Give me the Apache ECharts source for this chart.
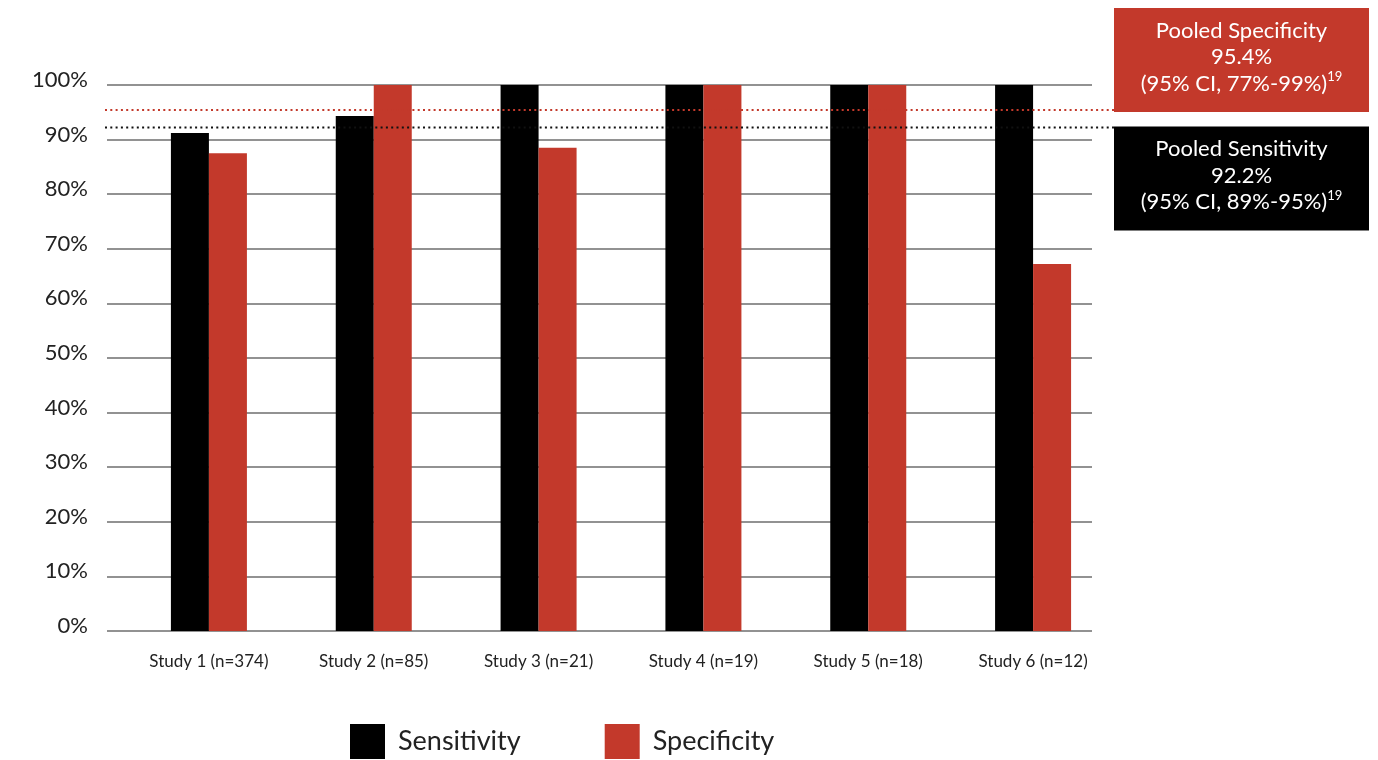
<!DOCTYPE html>
<html>
<head>
<meta charset="utf-8">
<script src="https://cdn.jsdelivr.net/npm/echarts@6/dist/echarts.min.js"></script>
<style>
  html, body { margin: 0; padding: 0; background: #fff; }
  #chart { width: 1378px; height: 760px; }
</style>
</head>
<body>
<div id="chart"></div>
<script>
// Study categories and per-study results (%)
const studies = ['Study 1 (n=374)', 'Study 2 (n=85)', 'Study 3 (n=21)', 'Study 4 (n=19)', 'Study 5 (n=18)', 'Study 6 (n=12)'];
const sensitivity = [91.2, 94.3, 100, 100, 100, 100];
const specificity = [87.5, 100, 88.5, 100, 100, 67.2];

// Pooled estimates shown as reference lines with callout boxes
const pooledSpecificity = 95.4;
const pooledSensitivity = 92.2;
const pooledSpecText = ['Pooled Specificity', '95.4%', '(95% CI, 77%-99%)'];
const pooledSensText = ['Pooled Sensitivity', '92.2%', '(95% CI, 89%-95%)'];
const refMark = '19';

const RED = '#C3392B';
const BLACK = '#000000';
const FONT = 'Lato, "Noto Sans", sans-serif';

const chart = echarts.init(document.getElementById('chart'), null, { renderer: 'canvas' });

chart.setOption({
  animation: false,
  backgroundColor: '#ffffff',
  textStyle: { fontFamily: FONT },
  grid: [
    { left: 107, right: 286, top: 85, bottom: 129 },
    { left: 126.5, right: 262.5, top: 85, bottom: 129 }
  ],
  xAxis: [
    { type: 'value', gridIndex: 0, show: false, min: 0, max: 1 },
    {
      type: 'category', gridIndex: 1, data: studies,
      axisLine: { show: false }, axisTick: { show: false },
      axisLabel: { fontSize: 17, color: '#222', fontFamily: FONT, margin: 22 }
    }
  ],
  yAxis: [
    {
      type: 'value', gridIndex: 0, min: 0, max: 100, interval: 10,
      axisLine: { show: false }, axisTick: { show: false },
      axisLabel: {
        formatter: '{value}%', fontSize: 22, color: '#222', fontFamily: FONT,
        margin: 19, verticalAlign: 'bottom', lineHeight: 10
      },
      splitLine: { lineStyle: { color: '#6e6e6e', width: 1.6 } }
    },
    { type: 'value', gridIndex: 1, min: 0, max: 100, show: false, splitLine: { show: false } }
  ],
  legend: {
    left: 345, top: 719,
    itemWidth: 35, itemHeight: 35, itemGap: 84,
    icon: 'rect',
    textStyle: { fontSize: 27, color: '#222', fontFamily: FONT, padding: [4, 0, 0, 8] },
    data: ['Sensitivity', 'Specificity']
  },
  series: [
    {
      name: 'Sensitivity', type: 'bar', xAxisIndex: 1, yAxisIndex: 1,
      data: sensitivity, barWidth: 38, barGap: '0%',
      itemStyle: { color: BLACK }
    },
    {
      name: 'Specificity', type: 'bar', xAxisIndex: 1, yAxisIndex: 1,
      data: specificity, barWidth: 38, barGap: '0%',
      itemStyle: { color: RED }
    }
  ]
});

// Reference lines and callout boxes, positioned from the value scale
function calloutGraphics() {
  const ySpec = chart.convertToPixel({ yAxisIndex: 0 }, pooledSpecificity);
  const ySens = chart.convertToPixel({ yAxisIndex: 0 }, pooledSensitivity);
  const lineStart = 105, lineEnd = 1114;
  const boxX = 1114, boxW = 255, boxH = 104;

  function rich(lines) {
    return {
      text: lines[0] + '\n' + lines[1] + '\n' + lines[2] + '{sup|' + refMark + '}',
      x: boxW / 2, y: boxH / 2 - 3,
      fill: '#fff', font: '22px ' + FONT, align: 'center', verticalAlign: 'middle',
      lineHeight: 26.5,
      rich: { sup: { fontSize: 13, fontFamily: FONT, fill: '#fff', verticalAlign: 'top', lineHeight: 20 } }
    };
  }

  return [
    {
      type: 'line', z: 100,
      shape: { x1: lineStart, y1: ySpec, x2: lineEnd, y2: ySpec },
      style: { stroke: RED, lineWidth: 2, lineDash: [2, 3.3] }
    },
    {
      type: 'line', z: 100,
      shape: { x1: lineStart, y1: ySens, x2: lineEnd, y2: ySens },
      style: { stroke: '#111', lineWidth: 2, lineDash: [2, 3.3] }
    },
    {
      type: 'group', x: boxX, y: ySpec + 2 - boxH, z: 101,
      children: [
        { type: 'rect', shape: { x: 0, y: 0, width: boxW, height: boxH }, style: { fill: RED } },
        { type: 'text', style: rich(pooledSpecText) }
      ]
    },
    {
      type: 'group', x: boxX, y: ySens - 1, z: 101,
      children: [
        { type: 'rect', shape: { x: 0, y: 0, width: boxW, height: boxH }, style: { fill: BLACK } },
        { type: 'text', style: rich(pooledSensText) }
      ]
    }
  ];
}

chart.setOption({ graphic: calloutGraphics() });
</script>
</body>
</html>
